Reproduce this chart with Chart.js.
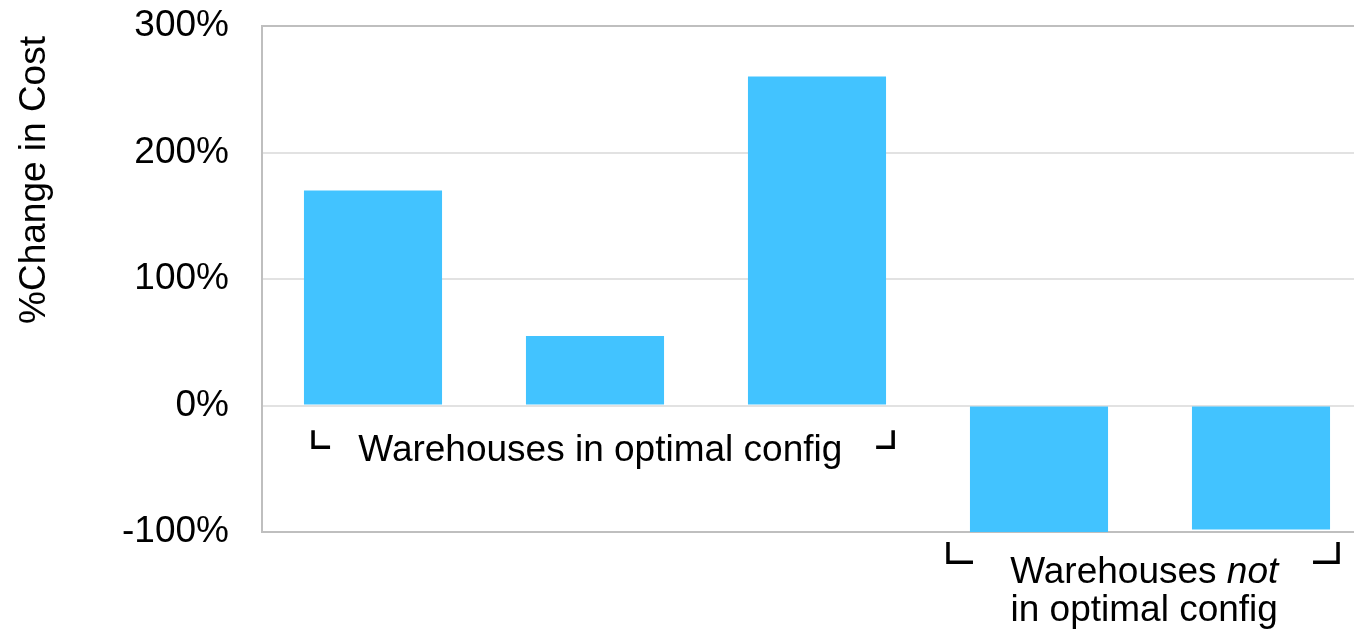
<!DOCTYPE html>
<html lang="en">
<head>
    <meta charset="UTF-8">
    <title>Cost Change by Warehouse</title>
    <script src="https://cdn.jsdelivr.net/npm/chart.js@4/dist/chart.umd.min.js"></script>
    <style>
        html, body {
            margin: 0;
            padding: 0;
            background: #fff;
            overflow: hidden;
        }
        canvas {
            display: block;
        }
    </style>
</head>
<body>
    <canvas id="costChart" width="1372" height="629"></canvas>

    <script>
        // Data
        const warehouses = ['Warehouse 1', 'Warehouse 2', 'Warehouse 3', 'Warehouse 4', 'Warehouse 5'];
        const costChange = [170, 55, 260, -100, -98];
        const yTicks = [-100, 0, 100, 200, 300];

        const FONT = '"Liberation Sans", Arial, sans-serif';
        const BAR_COLOR = '#42c3ff';

        // Group brackets + captions, anchored in category / value units
        const groups = [
            {
                from: -0.27, to: 2.343, top: -19.5, bottom: -33, arm: 17,
                lines: [[{ text: 'Warehouses in optimal config' }]],
                center: 1.024, baselines: [-43.5]
            },
            {
                from: 2.59, to: 4.347, top: -108, bottom: -124, arm: 25,
                lines: [
                    [{ text: 'Warehouses ' }, { text: 'not', italic: true }],
                    [{ text: 'in optimal config' }]
                ],
                center: 3.474, baselines: [-140, -170]
            }
        ];

        const groupLabels = {
            id: 'groupLabels',
            afterDraw(chart) {
                const ctx = chart.ctx;
                const x = chart.scales.x;
                const y = chart.scales.y;
                ctx.save();
                ctx.strokeStyle = '#000';
                ctx.fillStyle = '#000';
                ctx.lineWidth = 3.5;
                ctx.lineJoin = 'miter';
                groups.forEach(g => {
                    const x0 = x.getPixelForValue(g.from);
                    const x1 = x.getPixelForValue(g.to);
                    const yt = y.getPixelForValue(g.top);
                    const yb = y.getPixelForValue(g.bottom);
                    ctx.beginPath();
                    ctx.moveTo(x0, yt);
                    ctx.lineTo(x0, yb);
                    ctx.lineTo(x0 + g.arm, yb);
                    ctx.stroke();
                    ctx.beginPath();
                    ctx.moveTo(x1 - g.arm, yb);
                    ctx.lineTo(x1, yb);
                    ctx.lineTo(x1, yt);
                    ctx.stroke();

                    const cx = x.getPixelForValue(g.center);
                    ctx.textBaseline = 'alphabetic';
                    ctx.textAlign = 'left';
                    g.lines.forEach((parts, i) => {
                        const by = y.getPixelForValue(g.baselines[i]);
                        let total = 0;
                        parts.forEach(p => {
                            ctx.font = (p.italic ? 'italic ' : '') + '37px ' + FONT;
                            total += ctx.measureText(p.text).width;
                        });
                        let px = cx - total / 2;
                        parts.forEach(p => {
                            ctx.font = (p.italic ? 'italic ' : '') + '37px ' + FONT;
                            ctx.fillText(p.text, px, by);
                            px += ctx.measureText(p.text).width;
                        });
                    });
                });

                // y axis title
                ctx.font = '37px ' + FONT;
                ctx.textAlign = 'center';
                ctx.translate(45, 180);
                ctx.rotate(-Math.PI / 2);
                ctx.fillText('%Change in Cost', 0, 0);
                ctx.restore();
            }
        };

        const ctx = document.getElementById('costChart').getContext('2d');
        new Chart(ctx, {
            type: 'bar',
            data: {
                labels: warehouses,
                datasets: [{
                    data: costChange,
                    backgroundColor: BAR_COLOR,
                    borderWidth: 0,
                    barPercentage: 0.622,
                    categoryPercentage: 1
                }]
            },
            options: {
                responsive: false,
                animation: false,
                devicePixelRatio: 1,
                layout: {
                    padding: { left: 0, right: 0, top: 26, bottom: 97 }
                },
                plugins: {
                    legend: { display: false },
                    tooltip: { enabled: false }
                },
                scales: {
                    x: {
                        display: false
                    },
                    y: {
                        min: -100,
                        max: 300,
                        afterFit(scale) {
                            scale.width = 262;
                            scale.paddingTop = 0;
                            scale.paddingBottom = 0;
                        },
                        afterBuildTicks(scale) {
                            scale.ticks = yTicks.map(v => ({ value: v }));
                        },
                        border: { display: true, color: '#bfbfbf', width: 2 },
                        grid: {
                            drawTicks: false,
                            lineWidth: 2,
                            color: c => (c.tick && (c.tick.value === 300 || c.tick.value === -100)) ? '#bfbfbf' : '#e2e2e2'
                        },
                        ticks: {
                            padding: 33,
                            color: '#000',
                            font: { family: FONT, size: 37 },
                            callback: v => v + '%'
                        }
                    }
                }
            },
            plugins: [groupLabels]
        });
    </script>
</body>
</html>
